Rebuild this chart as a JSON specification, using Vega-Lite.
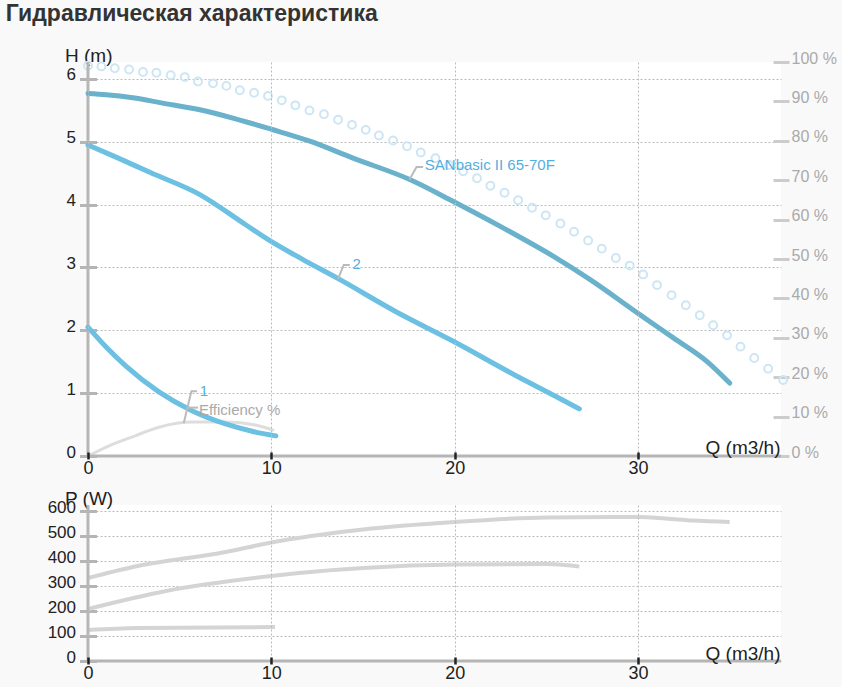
{
  "$schema": "https://vega.github.io/schema/vega-lite/v6.json",
  "background": "#f9f9f9",
  "padding": {"left": 5, "top": 3, "right": 5, "bottom": 5},
  "title": {
    "text": "Гидравлическая характеристика",
    "anchor": "start",
    "frame": "bounds",
    "dx": -41.5,
    "offset": 20,
    "font": "Liberation Sans",
    "fontSize": 23,
    "fontWeight": "bold",
    "color": "#333333"
  },
  "config": {
    "font": "Liberation Sans",
    "view": {"fill": "white", "stroke": null},
    "axis": {
      "domain": false,
      "gridColor": "#bbbbbb",
      "gridDash": [2, 2],
      "gridWidth": 1,
      "labelFont": "Liberation Sans",
      "labelColor": "#222222",
      "labelFlush": false,
      "labelOverlap": false,
      "titleFont": "Liberation Sans",
      "titleFontWeight": "normal",
      "titleFontSize": 19,
      "titleColor": "#222222"
    }
  },
  "spacing": 49,
  "bounds": "flush",
  "datasets": {
    "head": [
      {"curve": "SAN", "q": 0, "h": 5.77}, {"curve": "SAN", "q": 1, "h": 5.75}, {"curve": "SAN", "q": 2.45, "h": 5.70},
      {"curve": "SAN", "q": 4, "h": 5.62}, {"curve": "SAN", "q": 6.1, "h": 5.51}, {"curve": "SAN", "q": 8, "h": 5.37},
      {"curve": "SAN", "q": 10, "h": 5.20}, {"curve": "SAN", "q": 12.1, "h": 5.01}, {"curve": "SAN", "q": 14.46, "h": 4.74},
      {"curve": "SAN", "q": 17.55, "h": 4.40}, {"curve": "SAN", "q": 19.93, "h": 4.05}, {"curve": "SAN", "q": 22.64, "h": 3.63},
      {"curve": "SAN", "q": 25.37, "h": 3.18}, {"curve": "SAN", "q": 27.37, "h": 2.81}, {"curve": "SAN", "q": 30.1, "h": 2.25},
      {"curve": "SAN", "q": 31.93, "h": 1.88}, {"curve": "SAN", "q": 33.74, "h": 1.51}, {"curve": "SAN", "q": 35.0, "h": 1.16},
      {"curve": "2", "q": 0, "h": 4.95}, {"curve": "2", "q": 1.5, "h": 4.76}, {"curve": "2", "q": 3.4, "h": 4.51},
      {"curve": "2", "q": 6.1, "h": 4.16}, {"curve": "2", "q": 8.6, "h": 3.68}, {"curve": "2", "q": 9.9, "h": 3.43},
      {"curve": "2", "q": 11.7, "h": 3.13}, {"curve": "2", "q": 13.6, "h": 2.83}, {"curve": "2", "q": 16.9, "h": 2.28},
      {"curve": "2", "q": 19.9, "h": 1.83}, {"curve": "2", "q": 23.4, "h": 1.27}, {"curve": "2", "q": 25.5, "h": 0.95},
      {"curve": "2", "q": 26.8, "h": 0.75},
      {"curve": "1", "q": 0, "h": 2.05}, {"curve": "1", "q": 1, "h": 1.73}, {"curve": "1", "q": 2.07, "h": 1.43},
      {"curve": "1", "q": 3.87, "h": 1.02}, {"curve": "1", "q": 5.67, "h": 0.72}, {"curve": "1", "q": 7.5, "h": 0.51},
      {"curve": "1", "q": 9, "h": 0.39}, {"curve": "1", "q": 10.25, "h": 0.32}
    ],
    "maxc": [
      {"q": 0, "h": 6.21}, {"q": 0.73, "h": 6.20}, {"q": 1.46, "h": 6.17}, {"q": 2.24, "h": 6.15}, {"q": 3.0, "h": 6.11},
      {"q": 3.73, "h": 6.10}, {"q": 4.51, "h": 6.06}, {"q": 5.28, "h": 6.03}, {"q": 6.0, "h": 5.96}, {"q": 6.82, "h": 5.93},
      {"q": 7.55, "h": 5.89}, {"q": 8.28, "h": 5.82}, {"q": 9.06, "h": 5.78}, {"q": 9.82, "h": 5.73}, {"q": 10.57, "h": 5.66},
      {"q": 11.31, "h": 5.58}, {"q": 12.08, "h": 5.50}, {"q": 12.87, "h": 5.44}, {"q": 13.64, "h": 5.35}, {"q": 14.4, "h": 5.27},
      {"q": 15.15, "h": 5.19}, {"q": 15.87, "h": 5.10}, {"q": 16.64, "h": 5.02}, {"q": 17.4, "h": 4.93}, {"q": 18.15, "h": 4.83},
      {"q": 18.95, "h": 4.74}, {"q": 19.69, "h": 4.63}, {"q": 20.46, "h": 4.53}, {"q": 21.22, "h": 4.42}, {"q": 21.95, "h": 4.30},
      {"q": 22.72, "h": 4.19}, {"q": 23.46, "h": 4.07}, {"q": 24.22, "h": 3.95}, {"q": 24.97, "h": 3.83}, {"q": 25.77, "h": 3.70},
      {"q": 26.51, "h": 3.57}, {"q": 27.28, "h": 3.43}, {"q": 28.02, "h": 3.30}, {"q": 28.79, "h": 3.15}, {"q": 29.55, "h": 3.03},
      {"q": 30.28, "h": 2.89}, {"q": 31.04, "h": 2.72}, {"q": 31.83, "h": 2.56}, {"q": 32.61, "h": 2.40}, {"q": 33.37, "h": 2.24},
      {"q": 34.1, "h": 2.08}, {"q": 34.86, "h": 1.92}, {"q": 35.59, "h": 1.74}, {"q": 36.34, "h": 1.56}, {"q": 37.1, "h": 1.39},
      {"q": 37.92, "h": 1.21}
    ],
    "eff": [
      {"q": 0, "e": 0}, {"q": 1.15, "e": 2.6}, {"q": 2.5, "e": 5.0}, {"q": 3.87, "e": 7.3},
      {"q": 5.67, "e": 8.6}, {"q": 7.5, "e": 8.6}, {"q": 9.3, "e": 7.7}, {"q": 10.15, "e": 6.5}
    ],
    "power": [
      {"curve": "SAN", "q": 0, "p": 332}, {"curve": "SAN", "q": 2.45, "p": 376}, {"curve": "SAN", "q": 7.5, "p": 436},
      {"curve": "SAN", "q": 10, "p": 474}, {"curve": "SAN", "q": 15, "p": 526}, {"curve": "SAN", "q": 20, "p": 556},
      {"curve": "SAN", "q": 25, "p": 574}, {"curve": "SAN", "q": 30, "p": 576}, {"curve": "SAN", "q": 31.5, "p": 570},
      {"curve": "SAN", "q": 33, "p": 562}, {"curve": "SAN", "q": 35, "p": 556},
      {"curve": "2", "q": 0, "p": 208}, {"curve": "2", "q": 4.25, "p": 280}, {"curve": "2", "q": 10, "p": 340},
      {"curve": "2", "q": 11.5, "p": 352}, {"curve": "2", "q": 15, "p": 372}, {"curve": "2", "q": 20, "p": 386},
      {"curve": "2", "q": 25, "p": 388}, {"curve": "2", "q": 26, "p": 384}, {"curve": "2", "q": 26.8, "p": 378},
      {"curve": "1", "q": 0, "p": 124}, {"curve": "1", "q": 2.7, "p": 132}, {"curve": "1", "q": 10.2, "p": 136}
    ],
    "leaders": [
      {"id": "SAN", "q": 17.54, "h": 4.40}, {"id": "SAN", "q": 17.92, "h": 4.60}, {"id": "SAN", "q": 18.28, "h": 4.60},
      {"id": "2", "q": 13.64, "h": 2.82}, {"id": "2", "q": 13.95, "h": 3.04}, {"id": "2", "q": 14.28, "h": 3.04},
      {"id": "1", "q": 5.22, "h": 0.52}, {"id": "1", "q": 5.64, "h": 1.03}, {"id": "1", "q": 5.95, "h": 1.03},
      {"id": "eff", "q": 5.45, "h": 0.77}, {"id": "eff", "q": 6.0, "h": 0.77}
    ],
    "labels": [
      {"text": "SANbasic II 65-70F", "q": 18.37, "h": 4.55, "c": "#55ade0"},
      {"text": "2", "q": 14.43, "h": 2.97, "c": "#55ade0"},
      {"text": "1", "q": 6.1, "h": 0.95, "c": "#55ade0"},
      {"text": "Efficiency %", "q": 6.05, "h": 0.65, "c": "#aaaaaa"}
    ],
    "origin": [{"q": 0, "h": 0, "p": 0}]
  },
  "vconcat": [
    {
      "width": 693,
      "height": 394,
      "layer": [
        {
          "data": {"name": "eff"},
          "mark": {"type": "line", "color": "#dddddd", "strokeWidth": 3, "interpolate": "monotone"},
          "encoding": {
            "x": {"field": "q", "type": "quantitative", "scale": {"domain": [0, 37.8], "nice": false}},
            "y": {
              "field": "e", "type": "quantitative",
              "scale": {"domain": [0, 100], "nice": false},
              "axis": {
                "orient": "right", "values": [0, 10, 20, 30, 40, 50, 60, 70, 80, 90, 100],
                "offset": -8, "tickSize": 16, "tickColor": "#cccccc", "tickWidth": 3,
                "labelFontSize": 16, "labelColor": "#aaaaaa", "labelPadding": 2, "labelOverlap": false,
                "labelBaseline": "alphabetic", "labelOffset": 1,
                "labelExpr": "datum.value + ' %'", "grid": false, "title": null
              }
            }
          }
        },
        {
          "layer": [
            {
              "data": {"name": "maxc"},
              "mark": {"type": "point", "shape": "circle", "filled": false, "size": 62, "strokeWidth": 2, "color": "#cce6f4", "opacity": 1},
              "encoding": {
                "x": {
                  "field": "q", "type": "quantitative", "scale": {"domain": [0, 37.8], "nice": false},
                  "axis": {
                    "orient": "bottom", "values": [0, 10, 20, 30], "format": "d", "offset": -4, "tickSize": 7, "tickColor": "#222222", "tickWidth": 2.5,
                    "labelFontSize": 18, "labelPadding": 0, "labelOverlap": false, "grid": true, "zindex": 1,
                    "title": "Q (m3/h)", "titleX": 692, "titleY": 1, "titleAlign": "right", "titleBaseline": "alphabetic"
                  }
                },
                "y": {
                  "field": "h", "type": "quantitative", "scale": {"domain": [0, 6.27], "nice": false},
                  "axis": {
                    "orient": "left", "values": [0, 1, 2, 3, 4, 5, 6], "format": "d", "offset": -8.5, "tickSize": 17, "tickColor": "#b5b5b5", "tickWidth": 3,
                    "labelFontSize": 17, "labelPadding": 4, "labelOverlap": false, "labelBaseline": "alphabetic", "labelOffset": 1, "grid": true,
                    "title": "H (m)", "titleAngle": 0, "titleAlign": "left", "titleBaseline": "alphabetic", "titleX": -32, "titleY": -1
                  }
                }
              }
            },
            {
              "data": {"name": "origin"},
              "mark": {"type": "rule", "color": "#b5b5b5", "strokeWidth": 3},
              "encoding": {"x": {"field": "q", "type": "quantitative"}}
            },
            {
              "data": {"name": "origin"},
              "mark": {"type": "rule", "color": "#b5b5b5", "strokeWidth": 3},
              "encoding": {"y": {"field": "h", "type": "quantitative"}}
            },
            {
              "data": {"name": "head"},
              "mark": {"type": "line", "strokeWidth": 5, "strokeCap": "round", "interpolate": "monotone"},
              "encoding": {
                "x": {"field": "q", "type": "quantitative"},
                "y": {"field": "h", "type": "quantitative"},
                "detail": {"field": "curve"},
                "color": {"field": "curve", "type": "nominal", "scale": {"domain": ["SAN", "2", "1"], "range": ["#6ab2cc", "#6cc0e2", "#6cc0e2"]}, "legend": null}
              }
            },
            {
              "data": {"name": "leaders"},
              "mark": {"type": "line", "color": "#bbbbbb", "strokeWidth": 2},
              "encoding": {
                "x": {"field": "q", "type": "quantitative"},
                "y": {"field": "h", "type": "quantitative"},
                "detail": {"field": "id"}
              }
            },
            {
              "data": {"name": "labels"},
              "mark": {"type": "text", "align": "left", "baseline": "alphabetic", "fontSize": 15, "font": "Liberation Sans"},
              "encoding": {
                "x": {"field": "q", "type": "quantitative"},
                "y": {"field": "h", "type": "quantitative"},
                "text": {"field": "text"},
                "color": {"field": "c", "type": "nominal", "scale": null}
              }
            }
          ]
        }
      ],
      "resolve": {"scale": {"y": "independent"}}
    },
    {
      "width": 693,
      "height": 156,
      "layer": [
        {
          "data": {"name": "origin"},
          "mark": {"type": "rule", "color": "#b5b5b5", "strokeWidth": 3},
          "encoding": {
            "y": {
              "field": "p", "type": "quantitative", "scale": {"domain": [0, 624], "nice": false},
              "axis": {
                "orient": "left", "values": [0, 100, 200, 300, 400, 500, 600], "format": "d", "offset": -8.5, "tickSize": 17, "tickColor": "#b5b5b5", "tickWidth": 3,
                "labelFontSize": 17, "labelPadding": 4, "labelOverlap": false, "labelBaseline": "alphabetic", "labelOffset": 1, "grid": true,
                "title": "P (W)", "titleAngle": 0, "titleAlign": "left", "titleBaseline": "alphabetic", "titleX": -32, "titleY": -1
              }
            }
          }
        },
        {
          "data": {"name": "power"},
          "mark": {"type": "line", "color": "#d4d4d4", "strokeWidth": 4, "interpolate": "monotone"},
          "encoding": {
            "detail": {"field": "curve"},
            "x": {
              "field": "q", "type": "quantitative", "scale": {"domain": [0, 37.8], "nice": false},
              "axis": {
                "orient": "bottom", "values": [0, 10, 20, 30], "format": "d", "offset": -4, "tickSize": 7, "tickColor": "#222222", "tickWidth": 2.5,
                "labelFontSize": 18, "labelPadding": 0, "labelOverlap": false, "grid": true, "zindex": 1,
                "title": "Q (m3/h)", "titleX": 692, "titleY": 2, "titleAlign": "right", "titleBaseline": "alphabetic"
              }
            },
            "y": {
              "field": "p", "type": "quantitative", "scale": {"domain": [0, 624], "nice": false},
              "axis": {
                "orient": "left", "values": [0, 100, 200, 300, 400, 500, 600], "format": "d", "offset": -8.5, "tickSize": 17, "tickColor": "#b5b5b5", "tickWidth": 3,
                "labelFontSize": 17, "labelPadding": 4, "labelOverlap": false, "labelBaseline": "alphabetic", "labelOffset": 1, "grid": true,
                "title": "P (W)", "titleAngle": 0, "titleAlign": "left", "titleBaseline": "alphabetic", "titleX": -32, "titleY": -1
              }
            }
          }
        },
        {
          "data": {"name": "origin"},
          "mark": {"type": "rule", "color": "#b5b5b5", "strokeWidth": 3},
          "encoding": {"x": {"field": "q", "type": "quantitative"}}
        }
      ]
    }
  ]
}
